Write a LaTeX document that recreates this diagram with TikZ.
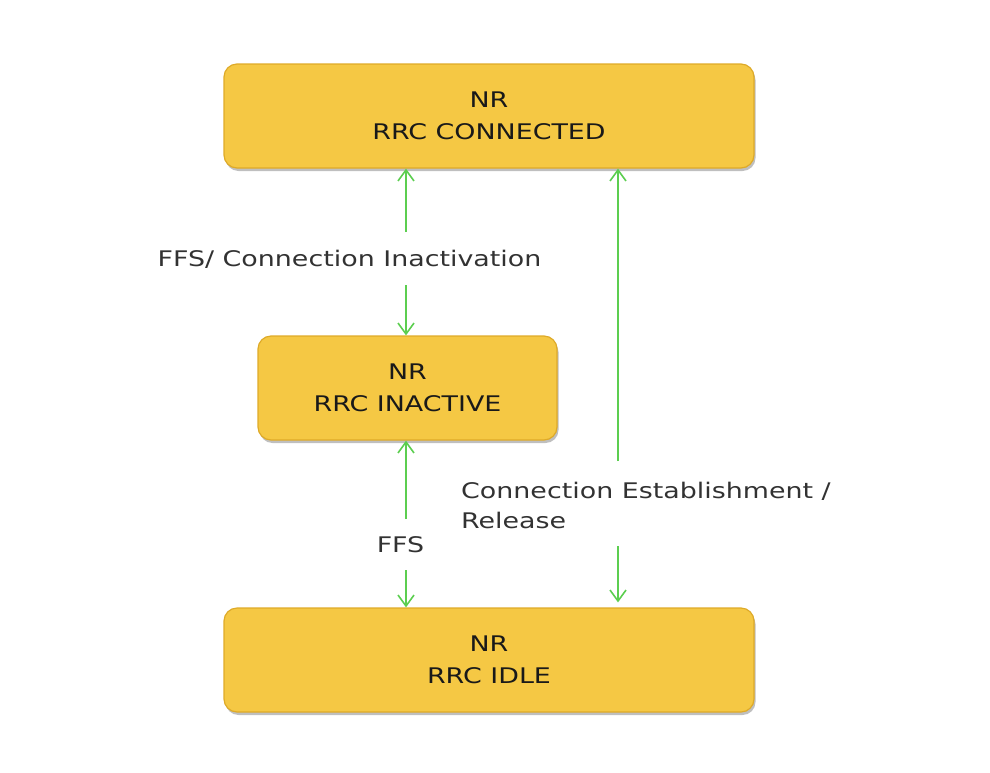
\documentclass[tikz,border=0pt]{standalone}
\usepackage{fontspec}
\usetikzlibrary{arrows.meta,shadows}
\newfontfamily\vfont[FakeStretch=1.25]{DejaVu Sans}
\definecolor{boxfill}{RGB}{245,200,68}
\definecolor{boxrim}{RGB}{222,170,40}
\definecolor{arrgreen}{RGB}{92,206,80}
\definecolor{labtext}{RGB}{50,50,50}
\definecolor{boxtext}{RGB}{25,25,25}
\tikzset{
  statebox/.style={rectangle, rounded corners=13pt, fill=boxfill, draw=boxrim,
    line width=1.2pt, align=center, text=boxtext,
    font=\vfont\fontsize{21.5pt}{32pt}\selectfont,
    drop shadow={shadow xshift=1.5pt, shadow yshift=-3pt, opacity=0.25, fill=black}},
  lab/.style={inner sep=0pt, text=labtext, font=\vfont\fontsize{21.5pt}{30pt}\selectfont},
  arr/.style={draw=arrgreen, line width=1.6pt, -{Straight Barb[length=11pt,width=16pt,line width=1.6pt]}}
}
\begin{document}
\begin{tikzpicture}[x=1pt,y=-1pt]
\useasboundingbox (0,0) rectangle (990,772);
\node[statebox, minimum width=530pt, minimum height=104pt] (conn) at (489,116) {NR\\RRC CONNECTED};
\node[statebox, minimum width=299pt, minimum height=104pt] (inact) at (407.5,388) {NR\\RRC INACTIVE};
\node[statebox, minimum width=530pt, minimum height=104pt] (idle) at (489,660) {NR\\RRC IDLE};

\node[lab] (l1) at (349.5,259) {FFS/ Connection Inactivation};
\node[lab] (l2) at (400.5,545) {FFS};
\node[lab, align=left, anchor=west] (l3) at (461,505) {Connection Establishment /\\Release};

\coordinate (a1t) at (406,232);
\coordinate (a1b) at (406,285);
\coordinate (a2t) at (406,519);
\coordinate (a2b) at (406,570);
\coordinate (a3t) at (618,461);
\coordinate (a3b) at (618,546);

\draw[arr] (a1t) -- (conn.south -| a1t);
\draw[arr] (a1b) -- (inact.north -| a1b);
\draw[arr] (a2t) -- (inact.south -| a2t);
\draw[arr] (a2b) -- (idle.north -| a2b);
\draw[arr] (a3t) -- (conn.south -| a3t);
\draw[arr, shorten >=5pt] (a3b) -- (idle.north -| a3b);
\end{tikzpicture}
\end{document}
